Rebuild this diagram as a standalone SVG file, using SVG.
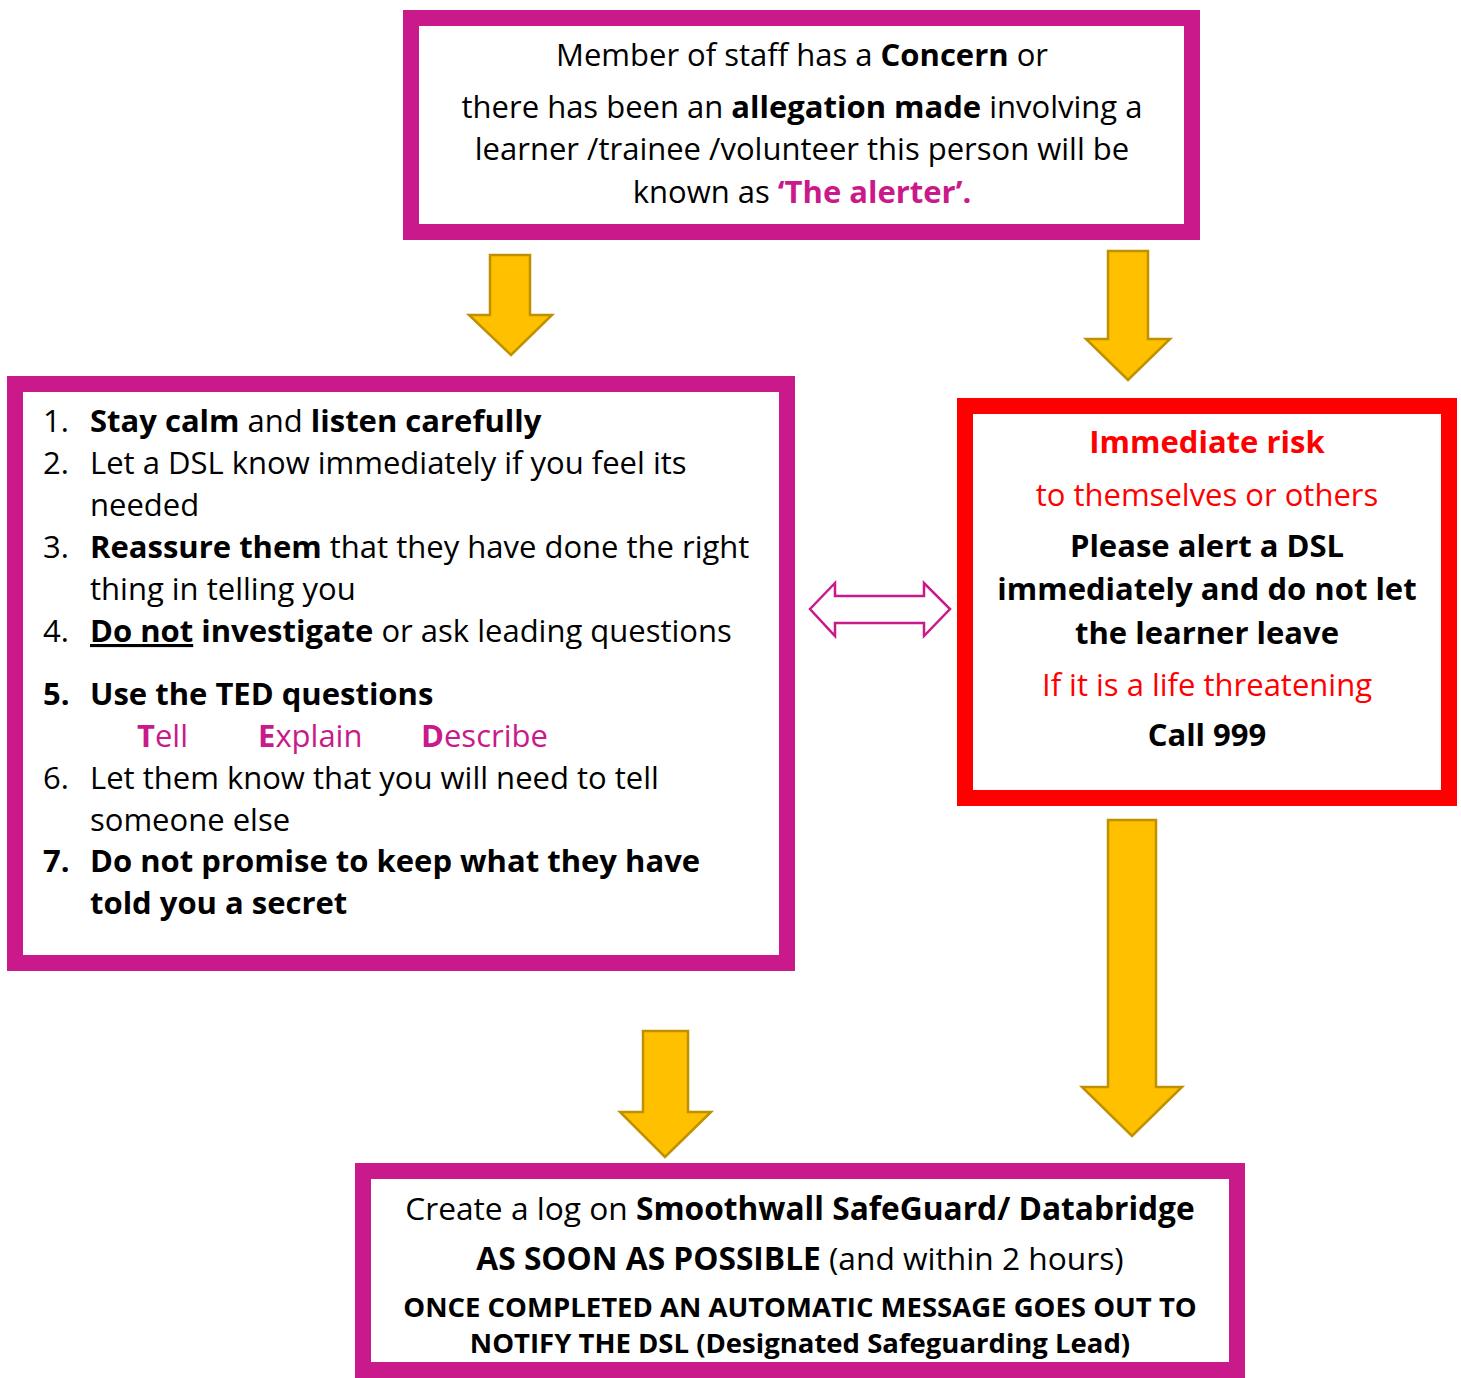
<svg xmlns="http://www.w3.org/2000/svg" width="1461" height="1378" viewBox="0 0 1461 1378">
<style>
text{font-family:"Open Sans","Noto Sans","Liberation Sans",sans-serif;font-size:31px;fill:#000}
.b{font-weight:700}
.c{text-anchor:middle}
.pk{fill:#C9198A}
.rd{fill:#FF0000}
.box{fill:#fff;stroke:#C9198A;stroke-width:16}
.rbox{fill:#fff;stroke:#FF0000;stroke-width:16}
.ya{fill:#FFC000;stroke:#BF9000;stroke-width:2.5;stroke-linejoin:miter}
.dbl{fill:#fff;stroke:#C9198A;stroke-width:2.5}
.lg{font-size:31.7px}
.sm{font-size:27.5px}
</style>
<rect width="1461" height="1378" fill="#fff"/>
<g id="connectors">
<polygon class="ya" points="490,255 530,255 530,315 552,315 511,355 469,315 490,315"/>
<polygon class="ya" points="1108,251 1148,251 1148,339 1170,339 1128,380 1086,339 1108,339"/>
<polygon class="dbl" points="810,609 835,583 835,596 924,596 924,583 950,609 924,636 924,623 835,623 835,636"/>
<polygon class="ya" points="643,1031 688,1031 688,1112 711,1112 665,1157 620,1112 643,1112"/>
<polygon class="ya" points="1108,820 1156,820 1156,1087 1182,1087 1132,1136 1082,1087 1108,1087"/>
</g>
<g id="node-alerter">
<rect class="box" x="411" y="18" width="781" height="214"/>
<text class="c" x="802" y="66">Member of staff has a <tspan class="b">Concern</tspan> or</text>
<text class="c" x="802" y="118">there has been an <tspan class="b">allegation made</tspan> involving a</text>
<text class="c" x="802" y="160">learner /trainee /volunteer this person will be</text>
<text class="c" x="802" y="203">known as <tspan class="b pk">‘The alerter’.</tspan></text>
</g>
<g id="node-steps">
<rect class="box" x="15" y="384" width="772" height="579"/>
<text x="43" y="432">1.</text><text x="90" y="432"><tspan class="b">Stay calm</tspan> and <tspan class="b">listen carefully</tspan></text>
<text x="43" y="474">2.</text><text x="90" y="474">Let a DSL know immediately if you feel its</text>
<text x="90" y="516">needed</text>
<text x="43" y="558">3.</text><text x="90" y="558"><tspan class="b">Reassure them</tspan> that they have done the right</text>
<text x="90" y="600">thing in telling you</text>
<text x="43" y="642">4.</text><text x="90" y="642"><tspan class="b" text-decoration="underline">Do not</tspan><tspan class="b"> investigate</tspan> or ask leading questions</text>
<text x="43" y="705" class="b">5.</text><text x="90" y="705" class="b">Use the TED questions</text>
<text x="137" y="747" class="pk"><tspan class="b">T</tspan>ell</text>
<text x="258" y="747" class="pk"><tspan class="b">E</tspan>xplain</text>
<text x="421" y="747" class="pk"><tspan class="b">D</tspan>escribe</text>
<text x="43" y="789">6.</text><text x="90" y="789">Let them know that you will need to tell</text>
<text x="90" y="831">someone else</text>
<text x="43" y="872" class="b">7.</text><text x="90" y="872" class="b">Do not promise to keep what they have</text>
<text x="90" y="914" class="b">told you a secret</text>
</g>
<g id="node-risk">
<rect class="rbox" x="965" y="406" width="484" height="392"/>
<text class="c b rd" x="1207" y="453">Immediate risk</text>
<text class="c rd" x="1207" y="506">to themselves or others</text>
<text class="c b" x="1207" y="557">Please alert a DSL</text>
<text class="c b" x="1207" y="600">immediately and do not let</text>
<text class="c b" x="1207" y="644">the learner leave</text>
<text class="c rd" x="1207" y="696">If it is a life threatening</text>
<text class="c b" x="1207" y="746">Call 999</text>
</g>
<g id="node-log">
<rect class="box" x="363" y="1171" width="874" height="199"/>
<text class="c lg" x="800" y="1220">Create a log on <tspan class="b">Smoothwall SafeGuard/ Databridge</tspan></text>
<text class="c lg" x="800" y="1270"><tspan class="b">AS SOON AS POSSIBLE</tspan> (and within 2 hours)</text>
<text class="c b sm" x="800" y="1317">ONCE COMPLETED AN AUTOMATIC MESSAGE GOES OUT TO</text>
<text class="c b sm" x="800" y="1353">NOTIFY THE DSL (Designated Safeguarding Lead)</text>
</g>
</svg>
